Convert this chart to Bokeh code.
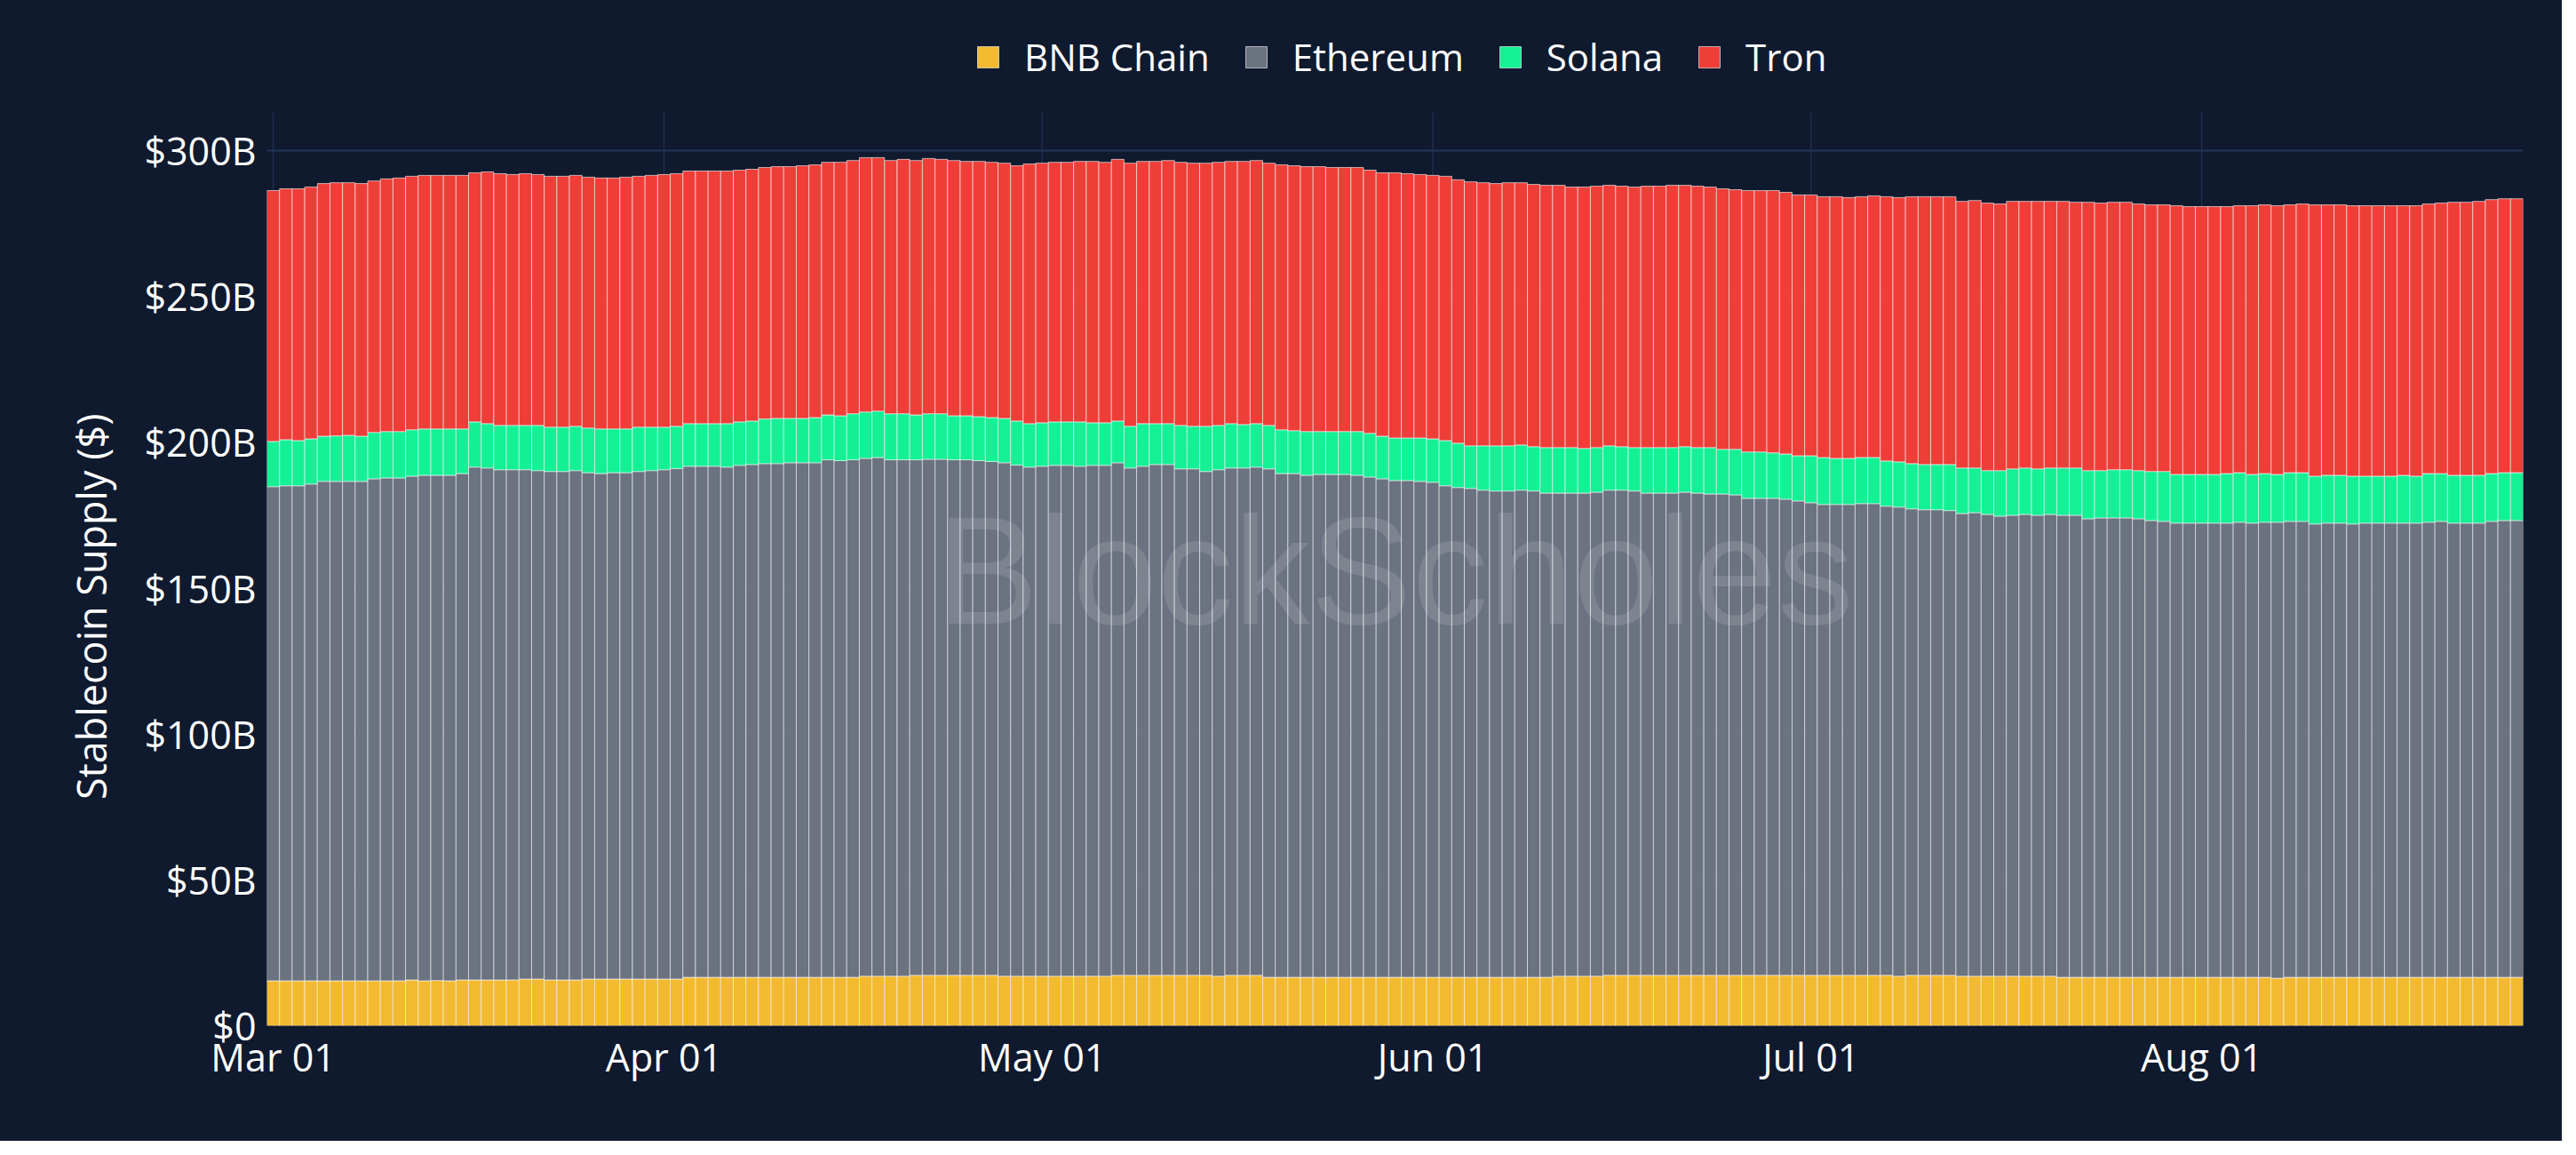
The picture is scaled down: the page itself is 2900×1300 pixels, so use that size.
import pandas as pd
from bokeh.plotting import figure
from bokeh.models import (ColumnDataSource, Range1d, FixedTicker, DatetimeTickFormatter,
                          Legend, LegendItem, Label)
from bokeh.embed import file_html
from bokeh.resources import INLINE

# daily supply per chain, $B, from 2025-03-01
start_date = "2025-03-01"
bnb = [15.4, 15.4, 15.4, 15.4, 15.4, 15.4, 15.4, 15.4, 15.4, 15.4,
       15.4, 15.7, 15.4, 15.5, 15.4, 15.7, 15.7, 15.7, 15.7, 15.7,
       16.0, 16.0, 15.7, 15.7, 15.7, 16.0, 16.0, 16.0, 16.0, 16.0,
       16.0, 16.0, 16.0, 16.6, 16.6, 16.6, 16.6, 16.6, 16.6, 16.6,
       16.6, 16.6, 16.6, 16.6, 16.6, 16.6, 16.6, 17.0, 17.0, 17.0,
       17.0, 17.3, 17.3, 17.3, 17.3, 17.3, 17.3, 17.3, 17.0, 17.0,
       17.0, 17.0, 17.0, 17.0, 17.0, 17.0, 17.0, 17.3, 17.3, 17.3,
       17.3, 17.3, 17.3, 17.3, 17.3, 17.0, 17.3, 17.3, 17.3, 16.6,
       16.6, 16.6, 16.6, 16.6, 16.6, 16.6, 16.6, 16.6, 16.6, 16.6,
       16.6, 16.6, 16.6, 16.6, 16.6, 16.6, 16.6, 16.6, 16.6, 16.6,
       16.6, 16.6, 17.0, 17.0, 17.0, 17.0, 17.3, 17.3, 17.3, 17.3,
       17.3, 17.3, 17.3, 17.3, 17.3, 17.3, 17.3, 17.3, 17.3, 17.3,
       17.3, 17.3, 17.3, 17.3, 17.3, 17.3, 17.3, 17.3, 17.3, 17.0,
       17.3, 17.3, 17.3, 17.3, 17.0, 17.0, 17.0, 17.0, 17.0, 17.0,
       17.0, 17.0, 16.6, 16.6, 16.6, 16.6, 16.6, 16.6, 16.6, 16.6,
       16.6, 16.6, 16.6, 16.6, 16.6, 16.6, 16.6, 16.6, 16.6, 16.3,
       16.6, 16.6, 16.6, 16.6, 16.6, 16.6, 16.6, 16.6, 16.6, 16.6,
       16.6, 16.6, 16.6, 16.6, 16.6, 16.6, 16.6, 16.6, 16.6]
ethereum = [169.4, 169.7, 169.7, 170.3, 171.2, 171.2, 171.2, 171.2, 172.1, 172.4,
            172.4, 172.7, 173.3, 173.2, 173.3, 173.6, 175.8, 175.5, 174.9, 174.9,
            174.6, 174.3, 174.3, 174.3, 174.6, 173.6, 173.3, 173.6, 173.6, 174.0,
            174.3, 174.6, 175.0, 175.2, 175.2, 175.2, 174.9, 175.5, 175.8, 176.1,
            176.1, 176.4, 176.4, 176.4, 177.4, 177.1, 177.4, 177.5, 177.8, 177.0,
            177.0, 176.7, 176.9, 176.9, 176.7, 176.7, 176.4, 176.1, 176.0, 175.2,
            174.5, 174.8, 175.1, 175.1, 174.8, 175.1, 175.1, 175.7, 173.9, 174.5,
            175.1, 175.1, 173.6, 173.6, 172.7, 173.6, 173.9, 173.9, 174.2, 174.3,
            172.7, 172.7, 172.1, 172.4, 172.4, 172.4, 172.1, 171.5, 170.9, 170.3,
            170.3, 170.0, 169.7, 168.5, 167.9, 167.6, 167.0, 166.7, 166.7, 167.0,
            166.7, 166.0, 165.6, 165.6, 165.6, 165.9, 166.3, 166.3, 166.0, 165.3,
            165.3, 165.3, 165.6, 165.3, 165.0, 165.0, 164.7, 163.5, 163.5, 163.5,
            163.2, 162.6, 162.0, 161.4, 161.4, 161.4, 161.7, 161.7, 160.8, 160.8,
            159.9, 159.6, 159.6, 159.3, 158.6, 158.9, 158.3, 157.7, 158.0, 158.3,
            158.0, 158.3, 158.4, 158.4, 157.2, 157.5, 157.5, 157.5, 157.2, 156.6,
            156.3, 155.7, 155.7, 155.7, 155.7, 155.7, 156.0, 155.7, 156.0, 156.3,
            156.3, 156.3, 155.4, 155.7, 155.7, 155.4, 155.7, 155.7, 155.7, 155.7,
            155.7, 156.0, 156.3, 155.7, 155.7, 155.7, 156.3, 156.6, 156.6]
solana = [15.5, 15.8, 15.5, 15.5, 15.5, 15.6, 15.8, 15.5, 15.9, 15.9,
          15.9, 15.9, 15.9, 15.9, 15.9, 15.3, 15.5, 15.2, 15.2, 15.2,
          15.2, 15.5, 15.2, 15.2, 15.2, 15.3, 15.3, 15.0, 15.0, 15.2,
          14.9, 14.6, 14.5, 14.6, 14.6, 14.6, 14.9, 14.9, 14.9, 15.3,
          15.5, 15.2, 15.2, 15.5, 15.4, 15.4, 15.8, 15.9, 15.9, 15.8,
          15.8, 15.4, 15.6, 15.6, 15.1, 15.1, 15.1, 15.1, 15.2, 15.1,
          14.9, 14.9, 14.9, 14.9, 15.2, 14.6, 14.6, 14.3, 14.3, 14.6,
          14.0, 14.0, 14.9, 14.6, 15.5, 15.2, 15.2, 14.9, 14.9, 14.9,
          15.0, 14.7, 15.0, 14.7, 14.7, 14.7, 15.0, 15.0, 14.6, 14.6,
          14.6, 14.9, 14.9, 15.5, 15.2, 14.6, 15.2, 15.5, 15.5, 15.5,
          15.2, 15.6, 15.6, 15.6, 15.3, 15.3, 15.2, 14.9, 14.9, 15.6,
          15.6, 15.6, 15.6, 15.6, 15.9, 15.3, 15.6, 15.9, 15.9, 15.6,
          15.5, 15.5, 16.1, 16.1, 15.8, 15.8, 15.8, 15.8, 15.5, 15.5,
          15.5, 15.5, 15.5, 15.8, 15.6, 15.3, 15.0, 15.6, 15.9, 15.9,
          15.9, 15.9, 16.2, 16.2, 16.5, 16.2, 16.5, 16.5, 16.5, 16.8,
          17.1, 16.7, 16.7, 16.7, 16.7, 17.0, 17.0, 16.7, 16.7, 16.4,
          16.7, 16.7, 16.4, 16.4, 16.4, 16.4, 16.1, 16.1, 16.1, 16.4,
          16.1, 16.7, 16.4, 16.4, 16.4, 16.4, 16.4, 16.4, 16.4]
tron = [86.0, 86.0, 86.3, 86.3, 86.6, 86.8, 86.6, 86.6, 86.2, 86.6,
        86.9, 86.9, 86.9, 86.9, 86.9, 86.9, 85.4, 86.3, 86.3, 86.0,
        86.3, 86.0, 86.0, 86.0, 86.0, 86.0, 86.0, 86.0, 86.3, 86.0,
        86.3, 86.6, 86.6, 86.6, 86.6, 86.6, 86.6, 86.3, 86.3, 86.2,
        86.3, 86.3, 86.6, 86.6, 86.6, 86.9, 86.8, 87.2, 86.9, 86.8,
        87.2, 87.2, 87.5, 87.2, 87.5, 87.2, 87.5, 87.5, 87.5, 87.5,
        89.0, 89.0, 89.0, 89.0, 89.3, 89.6, 89.3, 89.7, 90.2, 89.9,
        89.9, 90.2, 90.2, 90.2, 90.2, 90.2, 89.9, 90.2, 90.2, 89.9,
        90.8, 90.8, 90.8, 90.8, 90.5, 90.5, 90.5, 90.2, 90.3, 90.9,
        90.6, 90.3, 90.3, 90.6, 90.3, 90.5, 90.2, 89.9, 90.2, 89.9,
        89.9, 89.9, 89.9, 89.3, 89.6, 89.6, 89.3, 89.3, 89.3, 89.6,
        89.6, 89.9, 89.6, 89.6, 89.3, 89.3, 89.0, 89.6, 89.6, 89.9,
        89.7, 89.4, 89.4, 89.4, 89.7, 89.4, 89.4, 89.7, 90.6, 90.6,
        91.5, 91.8, 91.8, 91.8, 91.4, 91.7, 91.7, 91.4, 91.7, 91.4,
        91.7, 91.4, 91.4, 91.1, 92.0, 91.7, 91.7, 91.7, 91.4, 91.4,
        91.4, 92.1, 91.8, 91.8, 91.8, 91.5, 91.5, 92.1, 92.1, 92.1,
        91.8, 92.1, 93.0, 92.7, 92.7, 92.7, 92.7, 92.7, 92.7, 92.4,
        92.7, 92.4, 92.7, 93.6, 93.6, 93.9, 93.9, 93.9, 93.9]

chains = ["BNB Chain", "Ethereum", "Solana", "Tron"]
colors = ["#f3ba2f", "#6b7280", "#14f195", "#ef3e38"]
x_ticks = ["2025-03-01", "2025-04-01", "2025-05-01", "2025-06-01", "2025-07-01", "2025-08-01"]
y_ticks = [0, 50, 100, 150, 200, 250, 300]
y_labels = ["$0", "$50B", "$100B", "$150B", "$200B", "$250B", "$300B"]
y_top = 313.1   # top of the value axis in the original

bg = "#0f1a2e"
grid = "#25355a"
font = "Open Sans"

dates = pd.date_range(start_date, periods=len(tron), freq="D")
source = ColumnDataSource(dict(date=dates, bnb=bnb, eth=ethereum, sol=solana, tron=tron))
month_starts = [pd.Timestamp(t) for t in x_ticks]

# the frame runs up to the top of the canvas so the legend can sit inside it;
# the y range is stretched so that 0..y_top keeps its place on screen
frame_h = 1154
plot_h = 1154 - 126
day = pd.Timedelta(days=1)
p = figure(width=2884, height=1284, x_axis_type="datetime",
           x_range=Range1d(dates[0] - day / 2, dates[-1] + day / 2),
           y_range=Range1d(0, y_top * frame_h / plot_h),
           output_backend="svg", toolbar_location=None,
           min_border_left=300, min_border_right=44, min_border_top=0, min_border_bottom=130)
p.styles = {"background-color": bg}
p.background_fill_color = None
p.border_fill_color = None
p.outline_line_color = None

# month grid lines, only over the value axis
p.segment(x0=month_starts, x1=month_starts, y0=[0] * len(month_starts), y1=[y_top] * len(month_starts),
          line_color=grid, line_width=1)
p.xgrid.visible = False
p.ygrid.grid_line_color = grid
p.ygrid.grid_line_width = 2

rs = p.vbar_stack(["bnb", "eth", "sol", "tron"], x="date", width=day.total_seconds() * 1000,
                  color=colors, source=source, line_color="white", line_width=0.6)

# axes
p.xaxis.ticker = FixedTicker(ticks=[t.value // 10**6 for t in month_starts])
p.xaxis.formatter = DatetimeTickFormatter(days="%b %d", months="%b %d")
p.yaxis.ticker = FixedTicker(ticks=y_ticks)
p.yaxis.major_label_overrides = dict(zip(y_ticks, y_labels))
for ax in (p.xaxis[0], p.yaxis[0]):
    ax.axis_line_color = None
    ax.major_tick_line_color = None
    ax.minor_tick_line_color = None
    ax.major_tick_out = 0
    ax.major_label_text_color = "white"
    ax.major_label_text_font = font
    ax.major_label_text_font_size = "43px"
p.xaxis.major_label_standoff = 5
p.yaxis.major_label_standoff = 12
# trailing no-break spaces push the title down to where the original centres it
p.yaxis.axis_label = "Stablecoin Supply ($)" + "\u00a0" * 18
p.yaxis.axis_label_text_color = "white"
p.yaxis.axis_label_text_font = font
p.yaxis.axis_label_text_font_size = "45px"
p.yaxis.axis_label_text_font_style = "normal"
p.yaxis.axis_label_standoff = 26

# watermark
p.add_layout(Label(x=1270, y=513, x_units="screen", y_units="screen", text="BlockScholes",
                   text_align="center", text_baseline="alphabetic",
                   text_font="Liberation Sans", text_font_size="172px",
                   text_color="white", text_alpha=0.12))

legend = Legend(items=[LegendItem(label=c, renderers=[r]) for c, r in zip(chains, rs)],
                orientation="horizontal", location=(797, 1062),
                label_text_color="white", label_text_font=font, label_text_font_size="42px",
                glyph_width=30, glyph_height=30, label_standoff=26, spacing=37,
                padding=0, margin=0, border_line_alpha=0, background_fill_alpha=0)
p.add_layout(legend, "center")

open("out.html", "w").write(file_html(p, INLINE))
